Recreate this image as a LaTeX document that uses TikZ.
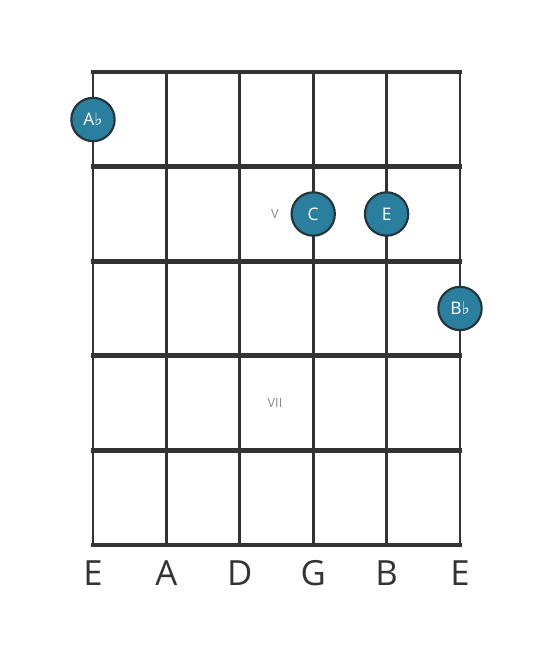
\documentclass[tikz,border=0pt]{standalone}
\usepackage{fontspec}
\setmainfont{Open Sans}
\newfontfamily\flatfont{DejaVu Sans}
\usepackage{tikz}
\usetikzlibrary{positioning}
\definecolor{fretline}{HTML}{333333}
\definecolor{notefill}{HTML}{2B7F9E}
\definecolor{noteedge}{HTML}{23343B}
\definecolor{markgray}{HTML}{8A8A8A}
\tikzstyle{fret} = [line width=3.6pt, draw=fretline]
\tikzstyle{string} = [line width=2.2pt, draw=fretline]
\tikzstyle{note} = [circle, minimum size=32.5pt, inner sep=0pt, fill=notefill, draw=noteedge, line width=1.6pt, text=white, font=\fontsize{13}{13}\selectfont]
\tikzstyle{marker} = [text=markgray, font=\fontsize{9.5}{9.5}\selectfont]
\tikzstyle{stringname} = [text=fretline, font=\fontsize{26}{26}\selectfont]
\newcommand{\flt}{{\flatfont\char"266D}}

\begin{document}
\begin{tikzpicture}[x=0.75pt, y=-0.75pt]
		\useasboundingbox (0,0) rectangle (553,656);
		% strings
		\foreach \sx in {93,166.4,239.8,313.2,386.6,460}
			\draw [string] (\sx,72) -- (\sx,545);
		% frets
		\foreach \fy in {72,166.6,261.2,355.8,450.4,545}
			\draw [fret] (91,\fy) -- (462,\fy);
		
		\node (markV) [marker] at (275,214) {V};
		\node (markVII) [marker] at (275,403) {VII};
		
		\node (noteAb) [note] at (93,119.5) {A\flt};
		\node (noteC) [note] at (313.2,214) {C};
		\node (noteE) [note] at (386.6,214) {E};
		\node (noteBb) [note] at (460,308.5) {B\flt};
		
		\node (strLowE) [stringname] at (93,573) {E};
		\node (strA) [stringname] at (166.4,573) {A};
		\node (strD) [stringname] at (239.8,573) {D};
		\node (strG) [stringname] at (313.2,573) {G};
		\node (strB) [stringname] at (386.6,573) {B};
		\node (strHighE) [stringname] at (460,573) {E};
	\end{tikzpicture}
\end{document}
